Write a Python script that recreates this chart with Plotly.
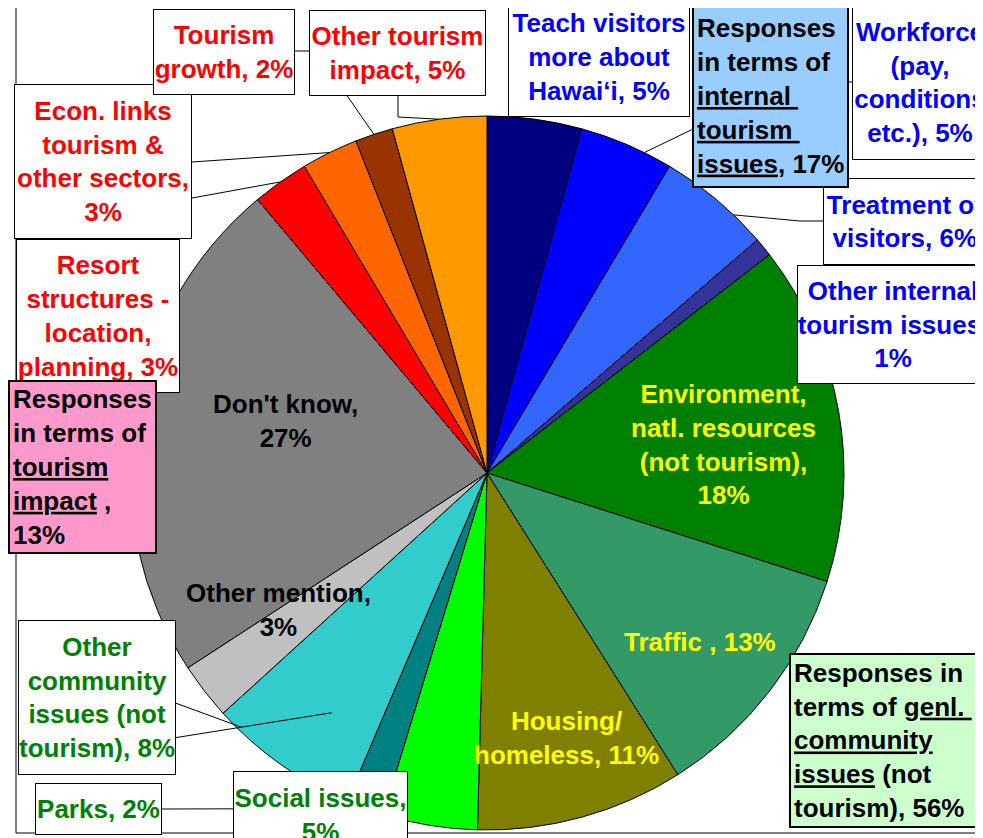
import math
import plotly.graph_objects as go

# slices, clockwise from 12 o'clock
labels = ["Teach visitors more about Hawai\u2018i", "Workforce (pay, conditions etc.)",
          "Treatment of visitors", "Other internal tourism issues",
          "Environment, natl. resources (not tourism)", "Traffic", "Housing/ homeless",
          "Social issues", "Parks", "Other community issues (not tourism)",
          "Other mention", "Don't know", "Resort structures - location, planning",
          "Econ. links tourism & other sectors", "Tourism growth", "Other tourism impact"]
values = [5, 5, 6, 1, 18, 13, 11, 5, 2, 8, 3, 27, 3, 3, 2, 5]
colors = ["#000080", "#0000FF", "#3366FF", "#333399", "#008000", "#339966", "#808000",
          "#00FF00", "#008080", "#33CCCC", "#C0C0C0", "#808080", "#FF0000", "#FF6600",
          "#993300", "#FF9900"]

# label texts as drawn on the chart
label_text = [
    "Teach visitors<br>more about<br>Hawai\u2018i, 5%",
    "Workforce<br>(pay,<br>conditions<br>etc.), 5%",
    "Treatment of<br>visitors, 6%",
    "Other internal<br>tourism issues,<br>1%",
    "Environment,<br>natl. resources<br>(not tourism),<br>18%",
    "Traffic , 13%",
    "Housing/<br>homeless, 11%",
    "Social issues,<br>5%",
    "Parks, 2%",
    "Other<br>community<br>issues (not<br>tourism), 8%",
    "Other mention,<br>3%",
    "Don't know,<br>27%",
    "Resort<br>structures -<br>location,<br>planning, 3%",
    "Econ. links<br>tourism &<br>other sectors,<br>3%",
    "Tourism<br>growth, 2%",
    "Other tourism<br>impact, 5%",
]
label_color = ["#0000FF"] * 4 + ["#FFFF00"] * 3 + ["#008000"] * 3 + ["#000000"] * 2 + ["#FF0000"] * 4

U = "<span style='text-decoration:underline'>"
E = "</span>"
group_text = [
    "Responses<br>in terms of<br>" + U + "internal " + E + "<br>" + U + "tourism " + E + "<br>" + U + "issues" + E + ", 17%",
    "Responses<br>in terms of<br>" + U + "tourism" + E + "<br>" + U + "impact" + E + " ,<br>13%",
    "Responses in<br>terms of " + U + "genl. " + E + "<br>" + U + "community" + E + "<br>" + U + "issues" + E + " (not<br>tourism), 56%",
]
group_fill = ["#99CCFF", "#FF99CC", "#CCFFCC"]

# page body has an 8px margin; work in window pixels and shift
OFF = 8
W, H = 983 - OFF, 838 - OFF
CX, CY, R = 487, 473, 357
total = sum(values)
starts = [sum(values[:i]) for i in range(len(values))]


def px(x):
    return (x - OFF) / W


def py(y):
    return 1 - (y - OFF) / H


def pie_pt(v, rf=1.0):
    a = math.radians(v / total * 360)
    return CX + R * rf * math.sin(a), CY - R * rf * math.cos(a)


def mid(i, rf=1.0, f=0.5):
    return pie_pt(starts[i] + f * values[i], rf)


fig = go.Figure(go.Pie(
    labels=labels, values=values, sort=False, direction="clockwise", rotation=0,
    marker=dict(colors=colors, line=dict(color="black", width=1)),
    textinfo="none", hoverinfo="label+value",
    domain=dict(x=[px(CX - R), px(CX + R)], y=[py(CY + R), py(CY - R)]),
))

FONT = "Arial, Liberation Sans, sans-serif"
FS = 26

# boxes: (index, x0, y0, x1, y1)
boxes = [
    (0, 508, -3, 690, 117), (1, 852, 5, 988, 160), (2, 823, 178, 987, 265),
    (3, 797, 265, 989, 384), (7, 233, 771, 408, 859), (8, 35, 783, 162, 835),
    (9, 18, 620, 176, 775), (12, 16, 239, 180, 393), (13, 14, 84, 192, 239),
    (14, 153, 9, 295, 95), (15, 309, 10, 486, 96),
]
# free labels: (index, cx, cy)
free = [(4, 723, 444), (5, 700, 642), (6, 566, 738), (10, 278, 610), (11, 285, 421)]
# group boxes: (x0, y0, x1 or None, y1, borderwidth)
gboxes = [(692, 4, None, 188, 2), (8, 380, None, 554, 2), (789, 653, 1000, 828, 2)]

# leader lines from the boxes to the slices
leaders = [
    ([(295, 51), (316, 51)], mid(14)),
    ([(398, 96), (398, 117)], mid(15)),
    ([(192, 162)], mid(13)),
    ([(192, 198)], mid(12)),
    ([(852, 82), (843, 82), (691, 130)], mid(1, 1.0, 0.7)),
    ([(823, 221), (800, 221)], mid(2, 1.0, 0.7)),
    ([(170, 701)], mid(9, 0.99, 0.85)),
    ([(142, 743)], mid(9, 0.8, 0.4)),
    ([(162, 809)], mid(8)),
]
shapes = [dict(type="rect", xref="paper", yref="paper", x0=px(16), y0=py(7), x1=px(995), y1=py(833),
               line=dict(color="black", width=1), layer="below")]
for pts, end in leaders:
    pts = pts + [end]
    path = "M " + " L ".join(f"{px(x)},{py(y)}" for x, y in pts)
    shapes.append(dict(type="path", xref="paper", yref="paper", path=path,
                       line=dict(color="black", width=1), layer="above"))

ann = []
for i, x0, y0, x1, y1 in boxes:
    ann.append(dict(xref="paper", yref="paper", x=px(x0), y=py(y0), xanchor="left", yanchor="top",
                    width=x1 - x0 - 2, height=y1 - y0 - 2, text=label_text[i], showarrow=False,
                    align="center", valign="middle", bgcolor="white", bordercolor="black",
                    borderwidth=1, borderpad=0,
                    font=dict(family=FONT, size=FS, color=label_color[i], weight="bold")))
for i, cx, cy in free:
    ann.append(dict(xref="paper", yref="paper", x=px(cx), y=py(cy), xanchor="center", yanchor="middle",
                    text=label_text[i], showarrow=False, align="center",
                    font=dict(family=FONT, size=FS, color=label_color[i], weight="bold")))
for (x0, y0, x1, y1, bw), t, c in zip(gboxes, group_text, group_fill):
    pad = 3
    a = dict(xref="paper", yref="paper", x=px(x0), y=py(y0), xanchor="left", yanchor="top",
             height=y1 - y0 - 2 * (bw + pad), text=t, showarrow=False,
             align="left", valign="middle", bgcolor=c, bordercolor="black",
             borderwidth=bw, borderpad=pad,
             font=dict(family=FONT, size=FS, color="black", weight="bold"))
    if x1 is not None:
        a["width"] = x1 - x0 - 2 * (bw + pad)
    ann.append(a)

fig.update_layout(
    width=W, height=H, autosize=False,
    margin=dict(l=0, r=0, t=0, b=0),
    paper_bgcolor="white", plot_bgcolor="white",
    showlegend=False, shapes=shapes, annotations=ann,
)

fig.write_html("out.html")
